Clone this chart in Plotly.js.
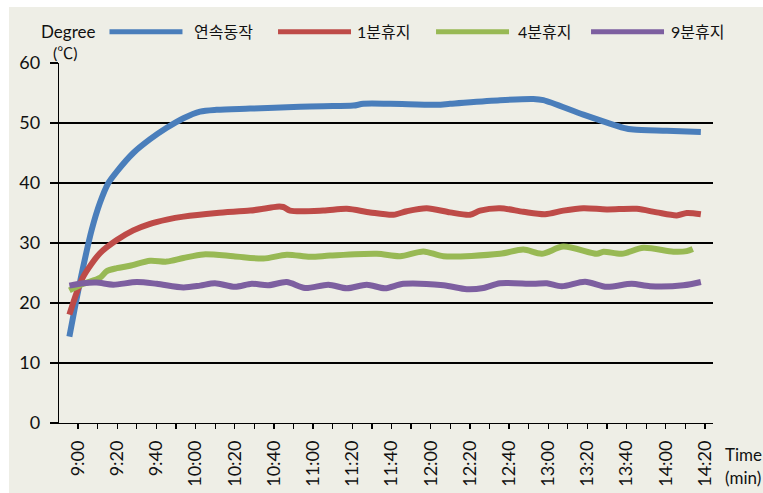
<!DOCTYPE html>
<html>
<head>
<meta charset="utf-8">
<script src="https://cdn.plot.ly/plotly-3.0.1.min.js"></script>
<style>
html,body{margin:0;padding:0;background:#ffffff;width:763px;height:493px;overflow:hidden;}
#chart{position:absolute;left:9px;top:7px;width:754px;height:486px;}
</style>
</head>
<body>
<div id="chart"></div>
<script>
// minutes after 9:00
const tickMinutes = [0,20,40,60,80,100,120,140,160,180,200,220,240,260,280,300,320];
const tickLabels = ['9:00','9:20','9:40','10:00','10:20','10:40','11:00','11:20','11:40','12:00','12:20','12:40','13:00','13:20','13:40','14:00','14:20'];

const seriesNames = ['연속동작','1분휴지','4분휴지','9분휴지'];
const seriesColors = ['#4A7EBB','#BE4B48','#98B954','#7D5FA0'];

const contX = [-4.4,-1.5,2.7,7.0,11.2,15.5,19.8,28.2,36.8,45.3,53.8,62.3,70.8,87.8,113.3,125.2,140.5,145.6,159.3,183.1,189.9,215.4,232.4,237.5,257.9,278.4,283.5,300.5,317.9];
const contY = [14.4,19.4,26.1,32.2,36.7,40.0,41.9,45.0,47.3,49.2,50.8,51.9,52.2,52.4,52.7,52.8,52.9,53.2,53.2,53.05,53.2,53.8,54.0,53.8,51.4,49.2,48.9,48.7,48.5];

const rest1X = [-4.4,-0.7,2.7,11.2,19.8,28.2,36.8,45.3,53.8,70.8,87.8,94.6,101.4,104.8,108.2,125.2,137.2,149.1,161.0,167.8,178.0,189.9,200.1,205.2,215.4,227.3,238.4,247.7,257.9,269.9,285.2,295.4,305.6,310.7,317.9];
const rest1Y = [18.05,21.7,24.4,28.3,30.5,32.1,33.2,33.9,34.4,35.0,35.4,35.7,36.05,36.0,35.4,35.4,35.7,35.1,34.7,35.3,35.8,35.1,34.7,35.4,35.8,35.2,34.8,35.4,35.8,35.6,35.7,35.1,34.6,35.0,34.8];

const rest4X = [-4.4,2.7,11.2,14.7,19.8,26.5,36.8,45.3,53.8,64.0,79.3,94.6,106.5,118.4,128.6,152.5,164.4,176.3,186.5,215.4,227.3,236.7,247.7,264.8,268.2,277.5,288.6,303.9,310.7,313.8];
const rest4Y = [22.1,23.2,24.2,25.3,25.8,26.2,27.05,26.9,27.5,28.1,27.8,27.4,28.05,27.7,27.9,28.2,27.8,28.6,27.8,28.2,28.9,28.2,29.4,28.2,28.55,28.2,29.2,28.55,28.65,29.0];

const rest9X = [-4.4,2.7,9.5,18.0,30.0,40.2,53.8,62.3,69.9,80.1,88.7,97.1,106.5,115.9,127.8,137.2,147.4,156.7,166.1,186.5,198.4,206.9,215.4,232.4,239.3,246.9,258.8,269.9,282.6,292.0,309.0,317.9];
const rest9Y = [22.9,23.3,23.4,23.05,23.5,23.2,22.6,22.9,23.3,22.7,23.2,22.95,23.5,22.5,23.05,22.45,23.05,22.45,23.2,22.95,22.3,22.5,23.3,23.2,23.3,22.8,23.55,22.7,23.2,22.8,22.95,23.5];

const yTicks = [0,10,20,30,40,50,60];

const xs = [contX, rest1X, rest4X, rest9X];
const ys = [contY, rest1Y, rest4Y, rest9Y];

const traces = seriesNames.map((n,i)=>({
  x: xs[i], y: ys[i], name: n, type: 'scatter', mode: 'lines',
  line: {color: seriesColors[i], width: 6, shape: 'spline', smoothing: 0.8},
  showlegend: false, hoverinfo: 'skip'
}));

const FONT = 'Lato, "Noto Sans CJK KR", sans-serif';
const BG = '#EEEEE6';

// legend drawn with paper-referenced shapes/annotations
const legendLines = [[0.0772,0.1888],[0.3349,0.4465],[0.5765,0.6881],[0.8135,0.9251]];
const legendTextX = [0.2034,0.4526,0.6988,0.9327];
const legY = 1.087;

const shapes = legendLines.map((p,i)=>({
  type:'line', xref:'paper', yref:'paper', x0:p[0], x1:p[1], y0:legY, y1:legY,
  line:{color:seriesColors[i], width:5}
}));

const annotations = seriesNames.map((n,i)=>({
  xref:'paper', yref:'paper', x:legendTextX[i], y:legY, xanchor:'left', yanchor:'middle',
  text:n, showarrow:false, font:{family:FONT, size:16, color:'#111'}
}));
annotations.push({xref:'paper', yref:'paper', x:-0.031, y:legY, xanchor:'left', yanchor:'middle',
  text:'Degree', showarrow:false, font:{family:FONT, size:17, color:'#111'}});
annotations.push({xref:'paper', yref:'paper', x:-0.012, y:1.028, xanchor:'left', yanchor:'middle',
  text:'(℃)', showarrow:false, font:{family:FONT, size:16, color:'#111'}});
annotations.push({xref:'paper', yref:'paper', x:1.016, y:-0.088, xanchor:'left', yanchor:'middle',
  text:'Time', showarrow:false, font:{family:FONT, size:17, color:'#111'}});
annotations.push({xref:'paper', yref:'paper', x:1.016, y:-0.152, xanchor:'left', yanchor:'middle',
  text:'(min)', showarrow:false, font:{family:FONT, size:17, color:'#111'}});

const layout = {
  width: 754, height: 486,
  margin: {l:50, r:50, t:56, b:70, pad:0},
  paper_bgcolor: BG, plot_bgcolor: BG,
  font: {family: FONT, color:'#111'},
  showlegend: false,
  xaxis: {
    range: [-9.7, 324.1], tickmode:'array', tickvals: tickMinutes, ticktext: tickLabels,
    tickangle: -90, ticks:'outside', ticklen:5, tickwidth:1.3, tickcolor:'#000',
    minor: {dtick:10, tick0:0, ticks:'outside', ticklen:5, tickwidth:1.3, tickcolor:'#000', showgrid:false},
    showgrid:false, zeroline:false, showline:true, linecolor:'#000', linewidth:1.3,
    tickfont:{family:FONT, size:18, color:'#111'}, ticklabelstandoff:4, fixedrange:true
  },
  yaxis: {
    range:[0,60], tickvals: yTicks, ticks:'outside', ticklen:8, tickwidth:1.3, tickcolor:'#000',
    showgrid:true, gridcolor:'#000', gridwidth:1.3, zeroline:false,
    showline:true, linecolor:'#000', linewidth:1.3,
    tickfont:{family:FONT, size:18, color:'#111'}, ticklabelstandoff:6, fixedrange:true
  },
  shapes: shapes,
  annotations: annotations
};

Plotly.newPlot('chart', traces, layout, {displayModeBar:false, staticPlot:true});
</script>
</body>
</html>
